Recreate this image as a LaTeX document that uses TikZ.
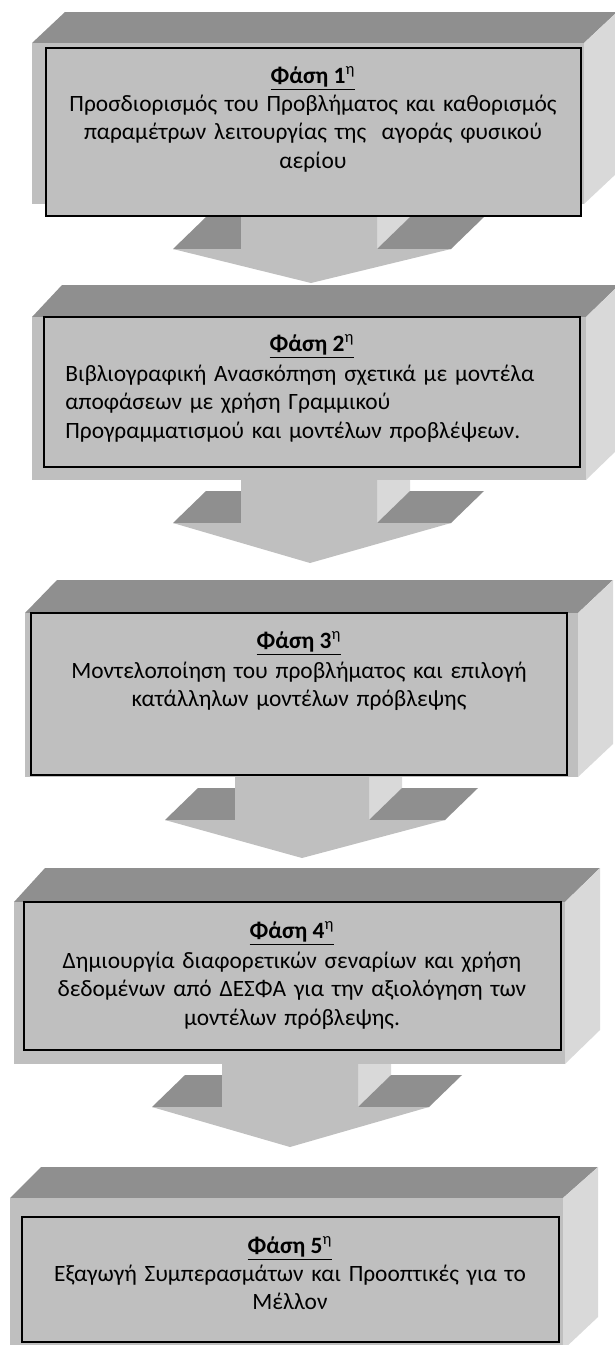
\documentclass[tikz,border=0pt]{standalone}
\usepackage{fontspec}
\setmainfont{Carlito}
\definecolor{topgray}{HTML}{8F8F8F}
\definecolor{frontgray}{HTML}{BFBFBF}
\definecolor{sidegray}{HTML}{D9D9D9}
\begin{document}
\begin{tikzpicture}[x=0.5pt,y=-0.5pt,
  topface/.style={fill=topgray},
  frontface/.style={fill=frontgray},
  sideface/.style={fill=sidegray},
  textbox/.style={draw=black,fill=frontgray,line width=1pt},
  phase/.style={anchor=base,inner sep=0pt,font=\fontsize{11.7}{14.3}\selectfont\bfseries},
  desc/.style={anchor=base,inner sep=0pt,text width=262pt,align=center,font=\fontsize{11.7}{14.3}\selectfont}]
\useasboundingbox (0,0) rectangle (615,1345);
\fill[sideface] (377,180) -- (410,148) -- (410,217) -- (377,249) -- cycle;
\fill[topface] (173,249) -- (241,249) -- (241,217) -- (206,217) -- cycle;
\fill[topface] (377,249) -- (451,249) -- (484,217) -- (410,217) -- cycle;
\fill[frontface] (241,180) -- (377,180) -- (377,249) -- (451,249) -- (311,283) -- (173,249) -- (241,249) -- cycle;
\fill[sideface] (377,460) -- (410,428) -- (410,491) -- (377,523) -- cycle;
\fill[topface] (173,523) -- (241,523) -- (241,491) -- (206,491) -- cycle;
\fill[topface] (377,523) -- (451,523) -- (484,491) -- (410,491) -- cycle;
\fill[frontface] (241,460) -- (377,460) -- (377,523) -- (451,523) -- (310,563) -- (173,523) -- (241,523) -- cycle;
\fill[sideface] (369,760) -- (402,728) -- (402,788) -- (369,820) -- cycle;
\fill[topface] (165,820) -- (235,820) -- (235,788) -- (198,788) -- cycle;
\fill[topface] (369,820) -- (445,820) -- (478,788) -- (402,788) -- cycle;
\fill[frontface] (235,760) -- (369,760) -- (369,820) -- (445,820) -- (302,858) -- (165,820) -- (235,820) -- cycle;
\fill[sideface] (358,1045) -- (391,1013) -- (391,1075) -- (358,1107) -- cycle;
\fill[topface] (152,1107) -- (222,1107) -- (222,1075) -- (185,1075) -- cycle;
\fill[topface] (358,1107) -- (429,1107) -- (462,1075) -- (391,1075) -- cycle;
\fill[frontface] (222,1045) -- (358,1045) -- (358,1107) -- (429,1107) -- (290,1147) -- (152,1107) -- (222,1107) -- cycle;
\fill[topface] (32,43) -- (65,12) -- (617,12) -- (584,43) -- cycle;
\fill[sideface] (584,43) -- (617,12) -- (617,173) -- (584,204) -- cycle;
\fill[frontface] (32,43) rectangle (584,204);
\draw[textbox] (46,48) rectangle (581,216);
\node[phase] (ph1) at (313,83) {\underline{Φάση 1\textsuperscript{\normalfont η}}};
\node[desc] (ds1) at (313,111) {Προσδιορισμός του Προβλήματος και καθορισμός\\ παραμέτρων λειτουργίας της\ \ αγοράς φυσικού\\ αερίου};
\fill[topface] (32,317) -- (62,285) -- (619,285) -- (586,317) -- cycle;
\fill[sideface] (586,317) -- (619,285) -- (619,448) -- (586,480) -- cycle;
\fill[frontface] (32,317) rectangle (586,480);
\draw[textbox] (44,317) rectangle (580,467);
\node[phase] (ph2) at (312,351) {\underline{Φάση 2\textsuperscript{\normalfont η}}};
\node[desc, anchor=base west, align=left] (ds2) at (65,381) {Βιβλιογραφική Ανασκόπηση σχετικά με μοντέλα\\ αποφάσεων με χρήση Γραμμικού\\ Προγραμματισμού και μοντέλων προβλέψεων.};
\fill[topface] (25,613) -- (57,580) -- (613,580) -- (578,613) -- cycle;
\fill[sideface] (578,613) -- (613,580) -- (613,744) -- (578,777) -- cycle;
\fill[frontface] (25,613) rectangle (578,777);
\draw[textbox] (31,613) rectangle (567,775);
\node[phase] (ph3) at (299,648) {\underline{Φάση 3\textsuperscript{\normalfont η}}};
\node[desc] (ds3) at (299,678) {Μοντελοποίηση του προβλήματος και επιλογή\\ κατάλληλων μοντέλων πρόβλεψης};
\fill[topface] (14,902) -- (45,868) -- (600,868) -- (565,902) -- cycle;
\fill[sideface] (565,902) -- (600,868) -- (600,1030) -- (565,1064) -- cycle;
\fill[frontface] (14,902) rectangle (565,1064);
\draw[textbox] (24,902) rectangle (561,1050);
\node[phase] (ph4) at (292,938) {\underline{Φάση 4\textsuperscript{\normalfont η}}};
\node[desc] (ds4) at (292,968) {Δημιουργία διαφορετικών σεναρίων και χρήση\\ δεδομένων από ΔΕΣΦΑ για την αξιολόγηση των\\ μοντέλων πρόβλεψης.};
\fill[topface] (10,1198) -- (41,1167) -- (598,1167) -- (563,1198) -- cycle;
\fill[sideface] (563,1198) -- (598,1167) -- (598,1317) -- (563,1350) -- cycle;
\fill[frontface] (10,1198) rectangle (563,1350);
\draw[textbox] (22,1217) rectangle (559,1342);
\node[phase] (ph5) at (290,1253) {\underline{Φάση 5\textsuperscript{\normalfont η}}};
\node[desc] (ds5) at (290,1281) {Εξαγωγή Συμπερασμάτων και Προοπτικές για το\\ Μέλλον};
\end{tikzpicture}
\end{document}
